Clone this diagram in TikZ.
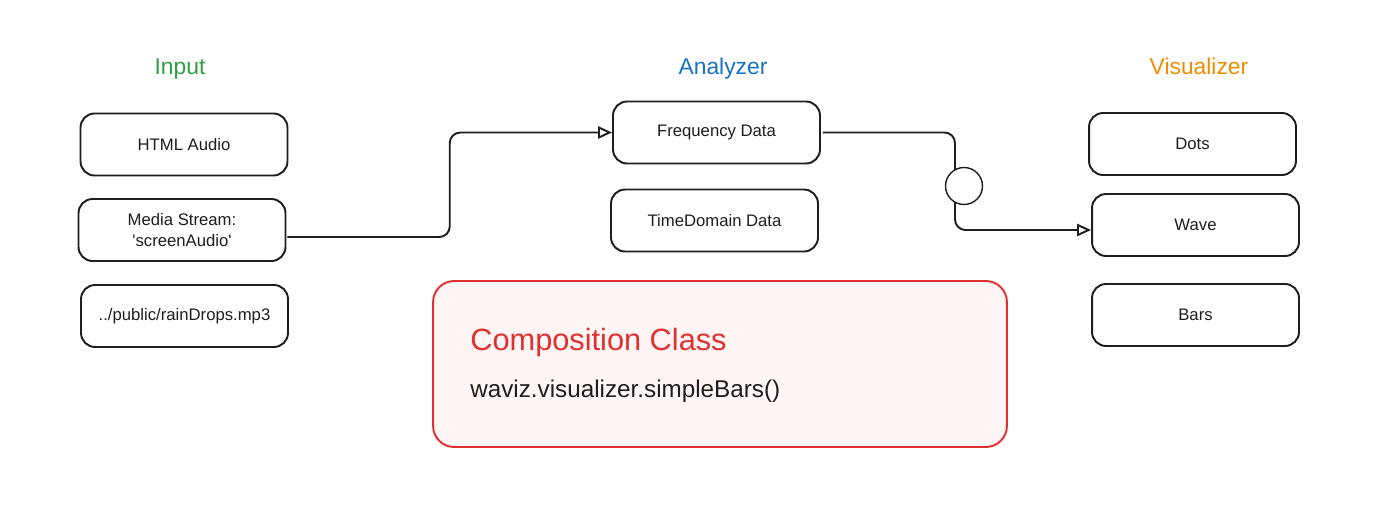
\documentclass[tikz,border=0pt]{standalone}
\usepackage{fontspec}
\setmainfont{Liberation Sans}
\usetikzlibrary{arrows.meta,calc}
\definecolor{cgreen}{HTML}{2F9E44}
\definecolor{cblue}{HTML}{1971C2}
\definecolor{corange}{HTML}{F08C00}
\definecolor{cred}{HTML}{E03131}
\definecolor{cpink}{HTML}{FFF5F5}
\definecolor{cink}{HTML}{1E1E1E}
\tikzset{
  box/.style={draw=cink, line width=1.1pt, rounded corners=8pt, fill=white,
    minimum width=4.14cm, minimum height=1.24cm, align=center, font=\fontsize{9.5}{11.5}\selectfont, text=cink},
  head/.style={font=\fontsize{13}{15}\selectfont, anchor=base},
  conn/.style={draw=cink, line width=1.1pt, rounded corners=6pt, -{Triangle[open, length=8pt, width=7pt]}},
}
\begin{document}
\begin{tikzpicture}[x=0.02cm,y=-0.02cm]
\useasboundingbox (0,0) rectangle (1389,511);
% headings
\node[head, text=cgreen] (hin) at (180,74) {Input};
\node[head, text=cblue] (han) at (723,74) {Analyzer};
\node[head, text=corange] (hvi) at (1199,74) {Visualizer};
% input boxes
\node[box] (html) at (184,144.5) {HTML Audio};
\node[box] (ms) at (182,230) {Media Stream:\\\textquotesingle screenAudio\textquotesingle};
\node[box] (rd) at (184.5,316) {../public/rainDrops.mp3};
% analyzer boxes
\node[box] (fd) at (716.5,132.5) {Frequency Data};
\node[box] (td) at (714.5,220.5) {TimeDomain Data};
% visualizer boxes
\node[box] (dots) at (1192.5,144) {Dots};
\node[box] (wave) at (1195.5,225) {Wave};
\node[box] (bars) at (1195.5,315) {Bars};
% composition
\node[draw=cred, line width=1.1pt, fill=cpink, rounded corners=12pt,
  minimum width=11.48cm, minimum height=3.32cm] (comp) at (720,364) {};
\node[anchor=west, text=cred, font=\fontsize{17.5}{20}\selectfont, inner sep=0pt] (ctitle) at (470,343) {Composition Class};
\node[anchor=west, text=cink, font=\fontsize{13.8}{16}\selectfont, inner sep=0pt] (ccode) at (470,391) {waviz.visualizer.simpleBars()};
% connectors
\coordinate (a1) at ($(ms.east)+(1,7)$);
\coordinate (b1) at ($(a1)!0.5!(fd.west)$);
\draw[conn] (a1) -| (b1) |- (fd.west);
\coordinate (a2) at ($(fd.east)+(2,0)$);
\coordinate (e2) at ($(wave.west)+(0,5)$);
\coordinate (b2) at (955,0);
\draw[conn] (a2) -- (b2 |- a2) -- (b2 |- e2) -- (e2);
\node[circle, draw=cink, line width=0.8pt, fill=white, minimum size=0.74cm, inner sep=0pt] (knob) at (964,186) {};
\end{tikzpicture}
\end{document}
